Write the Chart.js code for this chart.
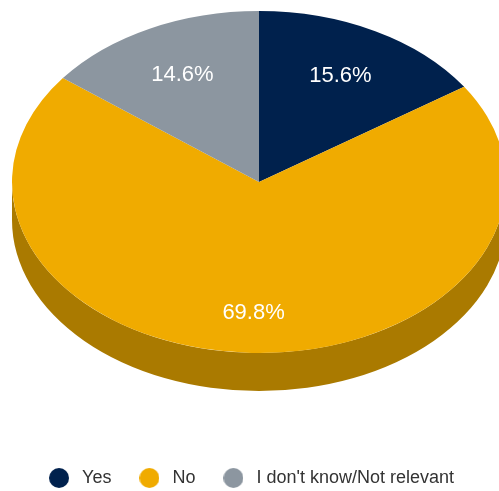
<!DOCTYPE html>
<html>
<head>
<meta charset="utf-8">
<script src="https://cdn.jsdelivr.net/npm/chart.js@4/dist/chart.umd.min.js"></script>
<style>
  body { margin: 0; background: #fff; }
  #wrap { width: 499px; height: 491px; }
</style>
</head>
<body>
<div id="wrap"><canvas id="pie"></canvas></div>
<script>
const labels = ['Yes', 'No', "I don't know/Not relevant"];
const shares = [15.6, 69.8, 14.6];
const topColors = ['#00214d', '#f0ab00', '#8c96a0'];
const sideColors = ['#001330', '#aa7a00', '#5f6770'];

// where the tilted pie sits on the page
const CX = 259, CY = 182, RX = 247, RY = 171, DEPTH = 38;

function dot(color) {
  const c = document.createElement('canvas');
  c.width = 20;
  c.height = 20;
  const g = c.getContext('2d');
  g.fillStyle = color;
  g.beginPath();
  g.arc(10, 10, 10, 0, Math.PI * 2);
  g.fill();
  return c;
}

// squash the round pie into an ellipse and give it a side wall
const tilt = {
  id: 'tilt',
  afterLayout(chart) {
    chart.legend.top += 6;
    chart.legend.bottom += 6;
  },
  beforeDatasetsDraw(chart) {
    const arcs = chart.getDatasetMeta(0).data;
    if (!arcs.length) return;
    const {x, y, outerRadius} = arcs[0];
    const sx = RX / outerRadius, sy = RY / outerRadius;
    const ctx = chart.ctx;
    ctx.save();
    ctx.translate(CX, CY);
    ctx.scale(sx, sy);
    ctx.translate(-x, -y);
    arcs.forEach((arc, i) => {
      const a = Math.max(arc.startAngle, 0);
      const b = Math.min(arc.endAngle, Math.PI);
      if (b <= a) return;
      ctx.beginPath();
      ctx.arc(x, y, outerRadius, a, b);
      ctx.arc(x, y + DEPTH / sy, outerRadius, b, a, true);
      ctx.closePath();
      ctx.fillStyle = sideColors[i];
      ctx.fill();
    });
  },
  afterDatasetsDraw(chart) {
    const ctx = chart.ctx;
    ctx.restore();
    const arcs = chart.getDatasetMeta(0).data;
    ctx.save();
    ctx.fillStyle = '#ffffff';
    ctx.font = '22px "Liberation Sans", Arial, sans-serif';
    ctx.textAlign = 'center';
    ctx.textBaseline = 'middle';
    arcs.forEach((arc, i) => {
      const mid = (arc.startAngle + arc.endAngle) / 2;
      const lx = CX + 0.7 * RX * Math.cos(mid);
      const ly = CY + 0.7 * RY * Math.sin(mid) + Math.max(0, Math.sin(mid)) * DEPTH * 0.3;
      ctx.fillText(shares[i].toFixed(1) + '%', lx, ly);
    });
    ctx.restore();
  }
};

new Chart(document.getElementById('pie'), {
  type: 'pie',
  data: {
    labels: labels,
    datasets: [{
      data: shares,
      backgroundColor: topColors,
      borderWidth: 0,
      clip: false
    }]
  },
  options: {
    responsive: true,
    maintainAspectRatio: false,
    animation: false,
    plugins: {
      tooltip: { enabled: false },
      legend: {
        position: 'bottom',
        labels: {
          usePointStyle: true,
          pointStyleWidth: 28,
          padding: 24,
          color: '#333333',
          font: { family: '"Liberation Sans", Arial, sans-serif', size: 18 },
          generateLabels(chart) {
            const items = Chart.overrides.doughnut.plugins.legend.labels.generateLabels(chart);
            items.forEach((it, i) => { it.pointStyle = dot(topColors[i]); });
            return items;
          }
        }
      }
    }
  },
  plugins: [tilt]
});
</script>
</body>
</html>
